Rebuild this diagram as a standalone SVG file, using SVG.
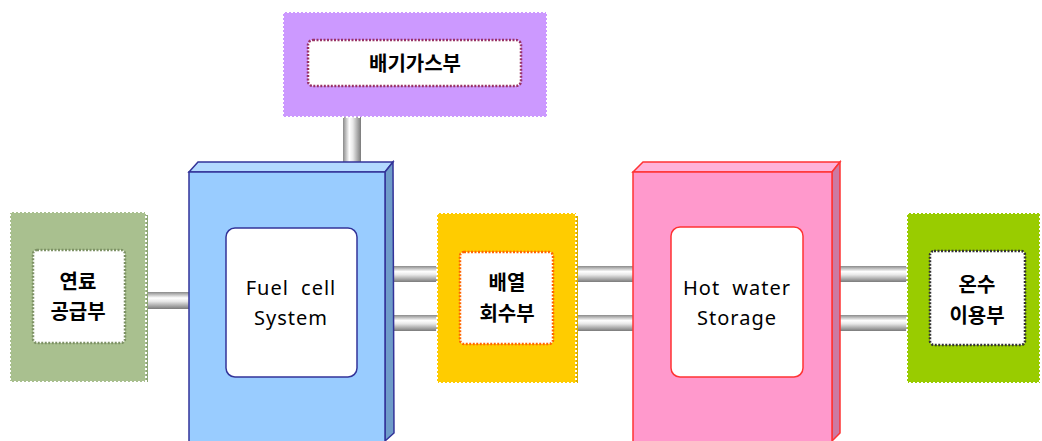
<svg xmlns="http://www.w3.org/2000/svg" width="1042" height="441" viewBox="0 0 1042 441">
<defs>
<linearGradient id="pipeH" x1="0" y1="0" x2="0" y2="1">
<stop offset="0" stop-color="#8a8a8a"/><stop offset="0.35" stop-color="#ffffff"/><stop offset="0.55" stop-color="#e8e8e8"/><stop offset="1" stop-color="#7a7a7a"/>
</linearGradient>
<linearGradient id="pipeV" x1="0" y1="0" x2="1" y2="0">
<stop offset="0" stop-color="#8a8a8a"/><stop offset="0.35" stop-color="#ffffff"/><stop offset="0.55" stop-color="#e8e8e8"/><stop offset="1" stop-color="#7a7a7a"/>
</linearGradient>
</defs>
<style>
.kt{font-family:"Noto Sans CJK KR","Noto Sans",sans-serif;font-weight:bold;font-size:20px;fill:#000;text-anchor:middle}
.et{font-family:"Noto Sans","Liberation Sans",sans-serif;font-size:20px;fill:#000;text-anchor:middle;letter-spacing:1px;word-spacing:6px}
.dot{stroke:#ffffff;stroke-width:2;stroke-dasharray:2 2}
.inner{fill:#ffffff;stroke-width:2.5;stroke-dasharray:2 1.5}
</style>
<rect width="1042" height="441" fill="#ffffff"/>
<g id="connectors">
<rect x="343" y="116" width="18" height="46" fill="url(#pipeV)"/>
<rect x="147" y="292" width="43" height="17" fill="url(#pipeH)"/>
<rect x="393" y="266" width="45" height="16" fill="url(#pipeH)"/>
<rect x="393" y="315" width="45" height="16" fill="url(#pipeH)"/>
<rect x="577" y="266" width="57" height="16" fill="url(#pipeH)"/>
<rect x="577" y="315" width="57" height="16" fill="url(#pipeH)"/>
<rect x="840" y="266" width="68" height="16" fill="url(#pipeH)"/>
<rect x="840" y="315" width="68" height="16" fill="url(#pipeH)"/>
</g>
<g id="exhaust">
<rect x="283" y="12" width="264" height="105" fill="#cc99ff" class="dot"/>
<rect x="308" y="40" width="213" height="46" rx="5" class="inner" stroke="#993366"/>
<text x="415" y="71" class="kt">배기가스부</text>
</g>
<g id="fuel-supply">
<rect x="144" y="215" width="4" height="167" fill="#8fa677"/>
<rect x="10" y="212" width="136" height="170" fill="#a9c08f" class="dot"/>
<rect x="33" y="250" width="92" height="93" rx="4" class="inner" stroke="#7d9165"/>
<text x="78" y="289" class="kt">연료</text>
<text x="78" y="319" class="kt">공급부</text>
</g>
<g id="fuel-cell">
<polygon points="189,172 198,162 393,162 385,172" fill="#b3d9ff" stroke="#333399" stroke-width="1.5"/>
<polygon points="385,172 393,162 394,433 385,441" fill="#6f9cc9" stroke="#333399" stroke-width="1.5"/>
<rect x="189" y="172" width="196" height="272" fill="#99ccff" stroke="#333399" stroke-width="1.5"/>
<rect x="226" y="228" width="131" height="149" rx="9" fill="#ffffff" stroke="#333399" stroke-width="1.5"/>
<text x="291" y="295" class="et">Fuel cell</text>
<text x="291" y="325" class="et">System</text>
</g>
<g id="heat-recovery">
<rect x="574" y="216" width="4" height="167" fill="#d9ad00"/>
<rect x="437" y="213" width="139" height="170" fill="#ffcc00" class="dot"/>
<rect x="460" y="252" width="93" height="92" rx="4" class="inner" stroke="#ff6600"/>
<text x="507" y="290" class="kt">배열</text>
<text x="507" y="321" class="kt">회수부</text>
</g>
<g id="hot-water">
<polygon points="633,172 643,162 840,162 832,172" fill="#ffb3d9" stroke="#ff3333" stroke-width="1.5"/>
<polygon points="832,172 840,162 840,433 832,441" fill="#cc7aa3" stroke="#ff3333" stroke-width="1.5"/>
<rect x="633" y="172" width="199" height="272" fill="#ff99cc" stroke="#ff3333" stroke-width="1.5"/>
<rect x="671" y="227" width="132" height="150" rx="9" fill="#ffffff" stroke="#ff3333" stroke-width="1.5"/>
<text x="737" y="295" class="et">Hot water</text>
<text x="737" y="325" class="et">Storage</text>
</g>
<g id="hot-water-use">
<rect x="907" y="213" width="133" height="170" fill="#99cc00" class="dot"/>
<rect x="930" y="251" width="95" height="94" rx="4" class="inner" stroke="#333333"/>
<text x="977" y="292" class="kt">온수</text>
<text x="977" y="323" class="kt">이용부</text>
</g>
</svg>
